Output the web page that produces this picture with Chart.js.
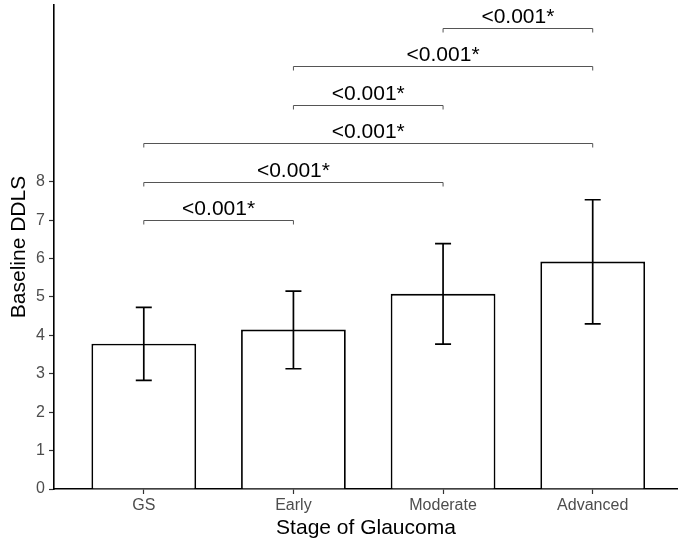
<!DOCTYPE html>
<html>
<head>
<meta charset="utf-8">
<script src="https://cdn.jsdelivr.net/npm/chart.js@4"></script>
<style>
  html, body { margin: 0; padding: 0; background: #fff; }
  #wrap { width: 678px; height: 541px; }
</style>
</head>
<body>
<div id="wrap"><canvas id="ddlsChart"></canvas></div>
<script>
const categories = ['GS', 'Early', 'Moderate', 'Advanced'];
const means = [3.78, 4.15, 5.08, 5.92];
const lower = [2.83, 3.13, 3.77, 4.30];
const upper = [4.73, 5.15, 6.39, 7.53];
const yTicks = [0, 1, 2, 3, 4, 5, 6, 7, 8];

// comparaisons (ggsignif) : groupe de départ, groupe d'arrivée, hauteur
const bracketFrom = [1, 1, 1, 2, 2, 3];
const bracketTo = [2, 3, 4, 3, 4, 4];
const bracketLevel = [7, 8, 9, 10, 11, 12];
const bracketLabel = ['<0.001*', '<0.001*', '<0.001*', '<0.001*', '<0.001*', '<0.001*'];

const FONT = 'Liberation Sans, Arial, Helvetica, sans-serif';

const annotations = {
    id: 'annotations',
    afterDatasetsDraw(chart) {
        const ctx = chart.ctx;
        const x = chart.scales.x;
        const y = chart.scales.y;
        ctx.save();

        // barres d'erreur
        ctx.strokeStyle = '#000';
        ctx.lineWidth = 1.7;
        means.forEach((m, i) => {
            const px = x.getPixelForValue(i + 1);
            const top = y.getPixelForValue(upper[i]);
            const bot = y.getPixelForValue(lower[i]);
            ctx.beginPath();
            ctx.moveTo(px, top); ctx.lineTo(px, bot);
            ctx.moveTo(px - 8, top); ctx.lineTo(px + 8, top);
            ctx.moveTo(px - 8, bot); ctx.lineTo(px + 8, bot);
            ctx.stroke();
        });

        // crochets de significativité
        ctx.strokeStyle = '#555';
        ctx.lineWidth = 1;
        ctx.fillStyle = '#000';
        ctx.font = '21px ' + FONT;
        ctx.textAlign = 'center';
        ctx.textBaseline = 'alphabetic';
        bracketLevel.forEach((lvl, i) => {
            const x1 = x.getPixelForValue(bracketFrom[i]);
            const x2 = x.getPixelForValue(bracketTo[i]);
            const py = Math.round(y.getPixelForValue(lvl)) + 0.5;
            ctx.beginPath();
            ctx.moveTo(x1, py + 4); ctx.lineTo(x1, py);
            ctx.lineTo(x2, py); ctx.lineTo(x2, py + 4);
            ctx.stroke();
            ctx.fillText(bracketLabel[i], (x1 + x2) / 2, py - 6);
        });
        ctx.restore();
    }
};

new Chart(document.getElementById('ddlsChart').getContext('2d'), {
    type: 'bar',
    data: {
        datasets: [{
            data: means.map((v, i) => ({ x: i + 1, y: v })),
            backgroundColor: '#ffffff',
            borderColor: '#000000',
            borderWidth: 1.8,
            categoryPercentage: 1,
            barPercentage: 0.7
        }]
    },
    options: {
        responsive: true,
        maintainAspectRatio: false,
        animation: false,
        layout: { padding: { top: 5, right: 0, left: 0, bottom: 0 } },
        scales: {
            x: {
                type: 'linear',
                offset: false,
                min: 0.4,
                max: 4.57,
                afterBuildTicks: s => { s.ticks = categories.map((c, i) => ({ value: i + 1 })); },
                afterFit: s => { s.height = 52; s.paddingLeft = 0; s.paddingRight = 0; },
                ticks: {
                    callback: v => categories[v - 1],
                    color: '#4d4d4d',
                    font: { family: FONT, size: 16 },
                    padding: 2,
                    maxRotation: 0
                },
                grid: {
                    offset: false,
                    drawOnChartArea: false,
                    tickLength: 5,
                    color: '#333',
                    tickWidth: 1.2
                },
                border: { color: '#000', width: 1.6 },
                title: {
                    display: true,
                    text: 'Stage of Glaucoma',
                    color: '#000',
                    font: { family: FONT, size: 21 },
                    padding: { top: 0, bottom: 0 }
                }
            },
            y: {
                min: 0,
                max: 12.6,
                afterBuildTicks: s => { s.ticks = yTicks.map(v => ({ value: v })); },
                afterFit: s => { s.width = 54; s.paddingTop = 0; s.paddingBottom = 0; },
                ticks: {
                    color: '#4d4d4d',
                    font: { family: FONT, size: 16 },
                    padding: 4
                },
                grid: {
                    drawOnChartArea: false,
                    tickLength: 5,
                    color: '#333',
                    tickWidth: 1.2
                },
                border: { color: '#000', width: 1.6 },
                title: {
                    display: true,
                    text: 'Baseline DDLS',
                    color: '#000',
                    font: { family: FONT, size: 21 },
                    padding: { top: 7, bottom: 2 }
                }
            }
        },
        plugins: {
            legend: { display: false },
            tooltip: { enabled: false }
        }
    },
    plugins: [annotations]
});
</script>
</body>
</html>
